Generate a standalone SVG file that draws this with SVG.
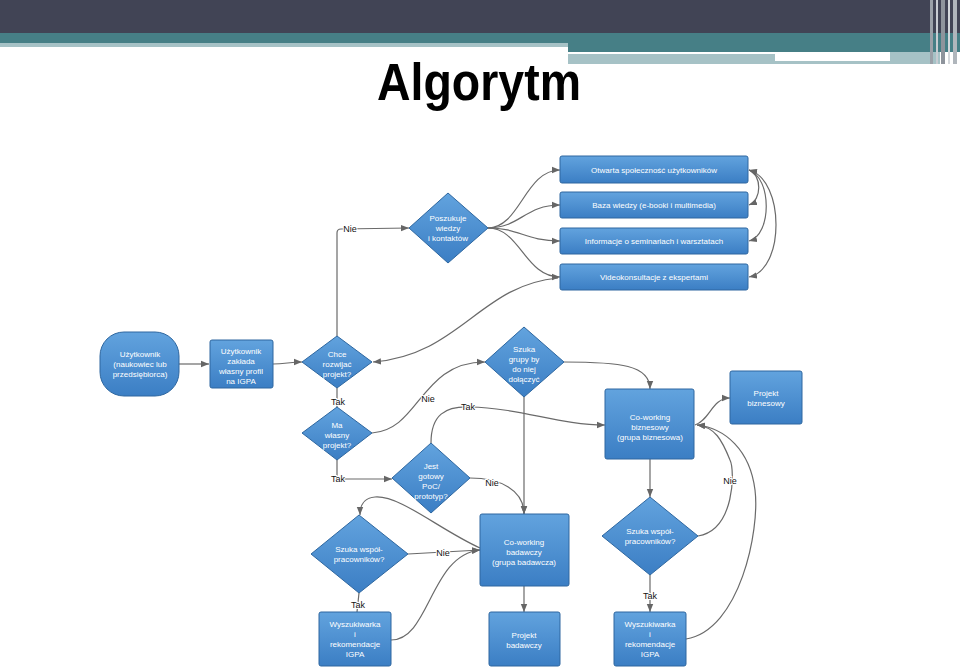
<svg xmlns="http://www.w3.org/2000/svg" width="960" height="668" viewBox="0 0 960 668">
<defs>
<linearGradient id="bg" x1="0" y1="0" x2="0" y2="1">
<stop offset="0" stop-color="#62a3de"/>
<stop offset="1" stop-color="#3b7ec4"/>
</linearGradient>
<marker id="ar" viewBox="0 0 10 10" refX="10" refY="5" markerWidth="8" markerHeight="8" markerUnits="userSpaceOnUse" orient="auto-start-reverse">
<path d="M0,1 L10,5 L0,9 z" fill="#666"/>
</marker>
</defs>
<style>
.n{fill:url(#bg);stroke:#2e67a0;stroke-width:1}
.t{font-family:"Liberation Sans",Arial,sans-serif;font-size:8px;fill:#fff;text-anchor:middle}
.c{fill:none;stroke:#6a6a6a;stroke-width:1.2}
.e{marker-end:url(#ar)}
.b{marker-start:url(#ar);marker-end:url(#ar)}
.l{font-family:"Liberation Sans",Arial,sans-serif;font-size:9px;fill:#111;text-anchor:middle;stroke:#fff;stroke-width:2;paint-order:stroke}
</style>
<rect width="960" height="668" fill="#fff"/>
<g id="header">
<rect x="0" y="0" width="960" height="33" fill="#414455"/>
<rect x="0" y="33" width="960" height="10" fill="#467f86"/>
<rect x="0" y="43" width="568" height="4" fill="#a6c2c6"/>
<rect x="568" y="43" width="392" height="9" fill="#467f86"/>
<rect x="568" y="52" width="322" height="2" fill="#fff"/>
<rect x="568" y="54" width="207" height="10" fill="#a6c2c6"/>
<rect x="775" y="61" width="165" height="3" fill="#a6c2c6"/>
<rect x="890" y="52" width="50" height="9" fill="#a6c2c6"/>
<rect x="930" y="0" width="3" height="64" fill="#9aa0a8"/>
<rect x="936" y="0" width="2" height="64" fill="#c8ccd2"/>
<rect x="941" y="0" width="4" height="64" fill="#8e949c"/>
<rect x="948" y="0" width="2" height="64" fill="#d4d8dc"/>
<rect x="953" y="0" width="4" height="64" fill="#b0b6bc"/>
<text x="479" y="100" font-family="Liberation Sans,Arial,sans-serif" font-weight="bold" font-size="51" text-anchor="middle" textLength="204" lengthAdjust="spacingAndGlyphs" fill="#000">Algorytm</text>
</g>
<g id="connectors">
<path class="c e" d="M179 364 L209 364"/>
<path class="c e" d="M273 364 C285 364 290 362 302 362"/>
<path class="c e" d="M337 336 L337 233 Q337 229 341 229 L409 228"/>
<path class="c e" d="M488 228 C520 228 525 170 560 170"/>
<path class="c e" d="M488 228 C520 228 525 205 560 205"/>
<path class="c e" d="M488 228 C520 228 525 241 560 241"/>
<path class="c e" d="M488 228 C520 228 525 277 560 277"/>
<path class="c e" d="M558 278 C480 285 460 355 373 362"/>
<path class="c" d="M337 388 L337 407"/>
<path class="c e" d="M337 460 L337 479 L392 479"/>
<path class="c e" d="M372 433 C420 430 420 362 485 362"/>
<path class="c e" d="M564 362 C620 362 650 365 650 389"/>
<path class="c e" d="M431 443 C431 415 445 406 470 407 C520 408 560 425 605 425"/>
<path class="c e" d="M524 397 L524 514"/>
<path class="c e" d="M470 478 C500 478 524 490 524 514"/>
<path class="c e" d="M480 548 C440 530 400 495 375 497 C365 498 360 503 360 515"/>
<path class="c e" d="M408 554 L480 550"/>
<path class="c" d="M359 593 L357 612"/>
<path class="c e" d="M391 640 C430 640 430 555 480 550"/>
<path class="c e" d="M524 586 L524 612"/>
<path class="c e" d="M650 459 L650 497"/>
<path class="c e" d="M650 575 L650 612"/>
<path class="c e" d="M698 536 C735 530 735 470 730 460 C722 440 715 427 697 425"/>
<path class="c e" d="M686 639 C740 630 760 530 755 490 C750 450 725 428 697 425"/>
<path class="c e" d="M695 425 C710 420 712 398 730 398"/>
<path class="c b" d="M749 170 C762 175 762 200 749 205"/>
<path class="c b" d="M749 170 C772 178 772 235 749 241"/>
<path class="c b" d="M749 170 C785 180 785 270 749 277"/>
<text class="l" x="350" y="232">Nie</text>
<text class="l" x="338" y="405">Tak</text>
<text class="l" x="338" y="482">Tak</text>
<text class="l" x="428" y="402">Nie</text>
<text class="l" x="468" y="410">Tak</text>
<text class="l" x="492" y="486">Nie</text>
<text class="l" x="443" y="556">Nie</text>
<text class="l" x="358" y="608">Tak</text>
<text class="l" x="650" y="599">Tak</text>
<text class="l" x="730" y="484">Nie</text>
</g>
<g id="n-otwarta">
<rect class="n" x="560" y="156" width="188" height="27" rx="2"/>
<text class="t" x="654" y="173">Otwarta społeczność użytkowników</text>
</g>
<g id="n-baza">
<rect class="n" x="560" y="192" width="188" height="26" rx="2"/>
<text class="t" x="654" y="208">Baza wiedzy (e-booki i multimedia)</text>
</g>
<g id="n-informacje">
<rect class="n" x="560" y="228" width="188" height="26" rx="2"/>
<text class="t" x="654" y="244">Informacje o seminariach i warsztatach</text>
</g>
<g id="n-video">
<rect class="n" x="560" y="264" width="188" height="26" rx="2"/>
<text class="t" x="654" y="280">Videokonsultacje z ekspertami</text>
</g>
<g id="n-poszukuje">
<path class="n" d="M448 193 L488 228 L448 263 L409 228 Z"/>
<text class="t" x="448" y="221">Poszukuje</text>
<text class="t" x="448" y="231">wiedzy</text>
<text class="t" x="448" y="241">i kontaktów</text>
</g>
<g id="n-uzytkownik">
<rect class="n" x="100" y="332" width="79" height="64" rx="24"/>
<text class="t" x="140" y="357">Użytkownik</text>
<text class="t" x="140" y="367">(naukowiec lub</text>
<text class="t" x="140" y="377">przedsiębiorca)</text>
</g>
<g id="n-zaklada">
<rect class="n" x="210" y="340" width="63" height="48" rx="2"/>
<text class="t" x="241" y="354">Użytkownik</text>
<text class="t" x="241" y="364">zakłada</text>
<text class="t" x="241" y="374">własny profil</text>
<text class="t" x="241" y="384">na IGPA</text>
</g>
<g id="n-chce">
<path class="n" d="M337 336 L372 362 L337 388 L302 362 Z"/>
<text class="t" x="337" y="357">Chce</text>
<text class="t" x="337" y="367">rozwijać</text>
<text class="t" x="337" y="377">projekt?</text>
</g>
<g id="n-ma">
<path class="n" d="M337 407 L372 433 L337 460 L302 433 Z"/>
<text class="t" x="337" y="428">Ma</text>
<text class="t" x="337" y="438">własny</text>
<text class="t" x="337" y="448">projekt?</text>
</g>
<g id="n-szukagrupy">
<path class="n" d="M524 327 L564 362 L524 397 L485 362 Z"/>
<text class="t" x="524" y="352">Szuka</text>
<text class="t" x="524" y="362">grupy by</text>
<text class="t" x="524" y="372">do niej</text>
<text class="t" x="524" y="382">dołączyć</text>
</g>
<g id="n-cwbiz">
<rect class="n" x="605" y="389" width="89" height="70" rx="2"/>
<text class="t" x="650" y="420">Co-working</text>
<text class="t" x="650" y="430">biznesowy</text>
<text class="t" x="650" y="440">(grupa biznesowa)</text>
</g>
<g id="n-projbiz">
<rect class="n" x="730" y="371" width="72" height="53" rx="2"/>
<text class="t" x="766" y="396">Projekt</text>
<text class="t" x="766" y="406">biznesowy</text>
</g>
<g id="n-jest">
<path class="n" d="M431 443 L470 478 L431 513 L392 478 Z"/>
<text class="t" x="431" y="469">Jest</text>
<text class="t" x="431" y="479">gotowy</text>
<text class="t" x="431" y="489">PoC/</text>
<text class="t" x="431" y="499">prototyp?</text>
</g>
<g id="n-cwbad">
<rect class="n" x="480" y="514" width="89" height="72" rx="2"/>
<text class="t" x="524" y="545">Co-working</text>
<text class="t" x="524" y="555">badawczy</text>
<text class="t" x="524" y="565">(grupa badawcza)</text>
</g>
<g id="n-projbad">
<rect class="n" x="489" y="612" width="71" height="54" rx="2"/>
<text class="t" x="524" y="638">Projekt</text>
<text class="t" x="524" y="648">badawczy</text>
</g>
<g id="n-szukawsp-l">
<path class="n" d="M359 515 L408 554 L359 593 L311 554 Z"/>
<text class="t" x="359" y="552">Szuka współ-</text>
<text class="t" x="359" y="562">pracowników?</text>
</g>
<g id="n-wysz-l">
<rect class="n" x="319" y="612" width="72" height="54" rx="2"/>
<text class="t" x="355" y="627">Wyszukiwarka</text>
<text class="t" x="355" y="637">i</text>
<text class="t" x="355" y="647">rekomendacje</text>
<text class="t" x="355" y="657">IGPA</text>
</g>
<g id="n-szukawsp-r">
<path class="n" d="M650 497 L698 536 L650 575 L602 536 Z"/>
<text class="t" x="650" y="534">Szuka współ-</text>
<text class="t" x="650" y="544">pracowników?</text>
</g>
<g id="n-wysz-r">
<rect class="n" x="614" y="612" width="72" height="54" rx="2"/>
<text class="t" x="650" y="627">Wyszukiwarka</text>
<text class="t" x="650" y="637">i</text>
<text class="t" x="650" y="647">rekomendacje</text>
<text class="t" x="650" y="657">IGPA</text>
</g>
</svg>
